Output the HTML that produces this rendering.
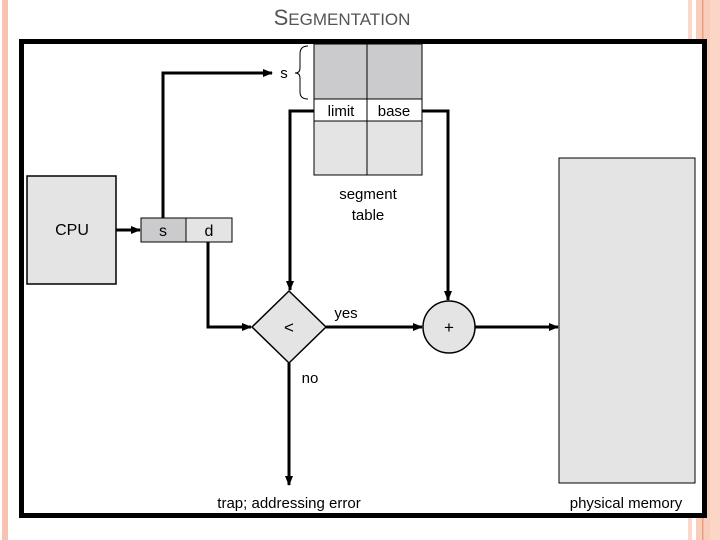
<!DOCTYPE html>
<html><head><meta charset="utf-8"><style>
html,body{margin:0;padding:0;background:#fff;width:720px;height:540px;overflow:hidden}
svg{display:block}
text{font-family:"Liberation Sans",Arial,sans-serif}
</style></head><body>
<svg width="720" height="540" viewBox="0 0 720 540" xmlns="http://www.w3.org/2000/svg">
<defs>
<marker id="a" markerWidth="10" markerHeight="8" refX="9" refY="4" orient="auto" markerUnits="userSpaceOnUse"><path d="M0,0 L10,4 L0,8 Z" fill="#000"/></marker>
</defs>
<!-- decorative strips -->
<rect x="2" y="0" width="6" height="540" fill="#f6c3b0"/>
<rect x="688" y="0" width="4" height="540" fill="#fbd8cb"/>
<rect x="696" y="0" width="24" height="540" fill="#f9cdbc"/>
<rect x="702" y="0" width="1.5" height="540" fill="#e8a080"/>
<rect x="710" y="0" width="10" height="540" fill="#fbd5c6"/>
<!-- title -->
<text x="342" y="25" text-anchor="middle" font-size="22" fill="#555">S<tspan font-size="17">EGMENTATION</tspan></text>
<!-- frame -->
<rect x="21.5" y="41.5" width="683" height="474" fill="#fff" stroke="#000" stroke-width="5"/>
<!-- segment table -->
<rect x="314" y="44" width="108" height="55" fill="#cbcbcd" stroke="#000" stroke-width="1"/>
<rect x="314" y="99" width="108" height="22" fill="#fff" stroke="#000" stroke-width="1"/>
<rect x="314" y="121" width="108" height="54" fill="#e4e4e4" stroke="#000" stroke-width="1"/>
<line x1="367" y1="44" x2="367" y2="175" stroke="#000" stroke-width="1"/>
<text x="341" y="116" text-anchor="middle" font-size="15">limit</text>
<text x="394" y="116" text-anchor="middle" font-size="15">base</text>
<text x="368" y="199" text-anchor="middle" font-size="15">segment</text>
<text x="368" y="220" text-anchor="middle" font-size="15">table</text>
<!-- brace -->
<path d="M308,46 Q300,46 300,54 L300,68 Q300,73 295,73 Q300,73 300,78 L300,92 Q300,99 308,99" fill="none" stroke="#000" stroke-width="1"/>
<text x="284" y="78" text-anchor="middle" font-size="15">s</text>
<!-- CPU -->
<rect x="27" y="176" width="89" height="108" fill="#e4e4e4" stroke="#000" stroke-width="1.5"/>
<text x="72" y="235" text-anchor="middle" font-size="16">CPU</text>
<rect x="141" y="218" width="45" height="24" fill="#cbcbcd" stroke="#000" stroke-width="1"/>
<rect x="186" y="218" width="46" height="24" fill="#e4e4e4" stroke="#000" stroke-width="1"/>
<text x="163" y="236" text-anchor="middle" font-size="16">s</text>
<text x="209" y="236" text-anchor="middle" font-size="16">d</text>
<!-- diamond -->
<polygon points="289,291 326,327 289,363 252,327" fill="#e4e4e4" stroke="#000" stroke-width="1.5"/>
<text x="289" y="333" text-anchor="middle" font-size="17">&lt;</text>
<!-- circle -->
<circle cx="449" cy="327" r="26" fill="#e4e4e4" stroke="#000" stroke-width="1.5"/>
<text x="449" y="333" text-anchor="middle" font-size="17">+</text>
<!-- memory -->
<rect x="559" y="158" width="136" height="325" fill="#e4e4e4" stroke="#000" stroke-width="1"/>
<!-- connectors -->
<g stroke="#000" stroke-width="3" fill="none">
<line x1="116" y1="230" x2="140" y2="230" marker-end="url(#a)"/>
<polyline points="163,218 163,73 272,73" marker-end="url(#a)"/>
<polyline points="314,111 290,111 290,290" marker-end="url(#a)"/>
<polyline points="422,111 448,111 448,300" marker-end="url(#a)"/>
<polyline points="208,242 208,327 251,327" marker-end="url(#a)"/>
<line x1="326" y1="327" x2="422" y2="327" marker-end="url(#a)"/>
<line x1="475" y1="327" x2="558" y2="327" marker-end="url(#a)"/>
<line x1="289" y1="363" x2="289" y2="485" marker-end="url(#a)"/>
</g>
<text x="346" y="318" text-anchor="middle" font-size="15">yes</text>
<text x="310" y="383" text-anchor="middle" font-size="15">no</text>
<text x="289" y="508" text-anchor="middle" font-size="15">trap; addressing error</text>
<text x="626" y="508" text-anchor="middle" font-size="15">physical  memory</text>
</svg>
</body></html>
